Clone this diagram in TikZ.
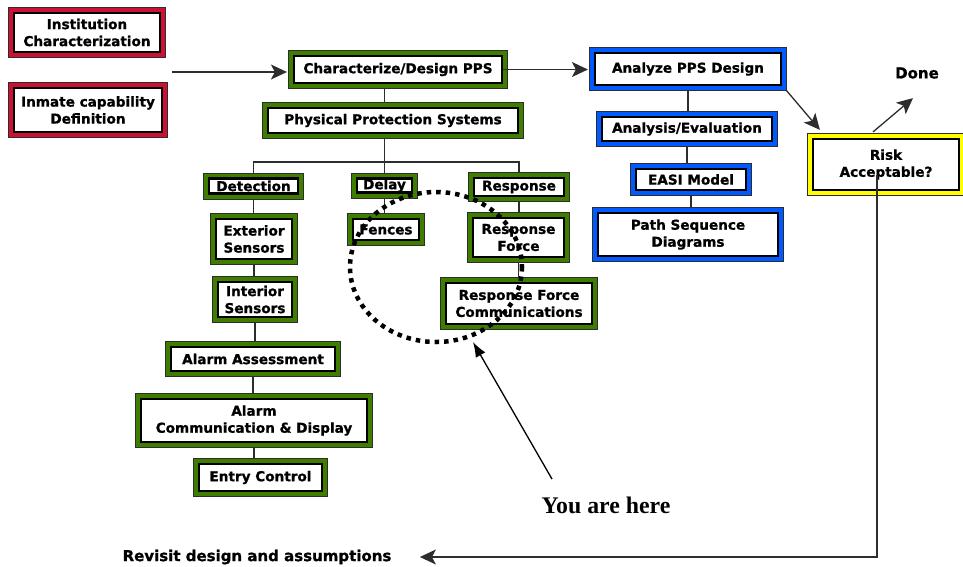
\documentclass[tikz,border=0pt]{standalone}
\usepackage{fontspec}
\newfontfamily\labelsans{DejaVu Sans}[BoldFeatures={FakeBold=1}]
\newfontfamily\noteserif{Liberation Serif}
\usetikzlibrary{arrows.meta,backgrounds}

\definecolor{ppsred}{RGB}{204,17,51}
\definecolor{ppsgreen}{RGB}{62,125,0}
\definecolor{ppsblue}{RGB}{0,90,255}
\definecolor{ppsyellow}{RGB}{255,255,0}
\definecolor{rim}{RGB}{45,45,45}

\tikzset{
  stage/.style={rectangle, fill=white, draw=black, line width=2.2pt,
    inner sep=0pt, align=center,
    font=\labelsans\bfseries\fontsize{13.6}{17}\selectfont,
    preaction={draw=rim, line width=12pt},
    preaction={draw=#1, line width=10pt}},
  link/.style={draw=rim, line width=1.3pt},
  barb/.style={link, -{Stealth[length=16pt,width=15pt,inset=4pt]}},
  pointer/.style={draw=black, line width=1.3pt, -{Latex[length=15pt,width=11pt]}},
  plain/.style={font=\labelsans\bfseries\fontsize{15}{18}\selectfont},
  ring/.style={draw=black, line width=4.5pt, dash pattern=on 4.5pt off 5pt}
}

\begin{document}
\begin{tikzpicture}[x=1pt, y=-1pt]
\useasboundingbox (0,0) rectangle (963,566);

% inputs
\node[stage=ppsred, minimum width=146, minimum height=39] (inst) at (87,32.5) {Institution\\Characterization};
\node[stage=ppsred, minimum width=148, minimum height=44] (inmate) at (88,110) {Inmate capability\\Definition};

% design branch
\node[stage=ppsgreen, minimum width=208, minimum height=27] (char) at (398,69.5) {Characterize/Design PPS};
\node[stage=ppsgreen, minimum width=250, minimum height=25] (pps) at (393,120.5) {Physical Protection Systems};

\node[stage=ppsgreen, minimum width=89, minimum height=15] (det) at (253.5,186) {Detection};
\node[stage=ppsgreen, minimum width=55, minimum height=14] (delay) at (384.5,185.5) {Delay};
\node[stage=ppsgreen, minimum width=90, minimum height=18] (resp) at (519,187) {Response};

\node[stage=ppsgreen, minimum width=76, minimum height=40] (ext) at (254,239) {Exterior\\Sensors};
\node[stage=ppsgreen, minimum width=66, minimum height=21] (fences) at (386,229.5) {Fences};
\node[stage=ppsgreen, minimum width=91, minimum height=39] (rf) at (518.5,237.5) {Response\\Force};

\node[stage=ppsgreen, minimum width=74, minimum height=35] (int) at (255,299.5) {Interior\\Sensors};
\node[stage=ppsgreen, minimum width=146, minimum height=41] (rfc) at (519,303.5) {Response Force\\Communications};

\node[stage=ppsgreen, minimum width=164, minimum height=24] (aa) at (253,359) {Alarm Assessment};
\node[stage=ppsgreen, minimum width=226, minimum height=43] (ac) at (254,420.5) {Alarm\\Communication \& Display};
\node[stage=ppsgreen, minimum width=123, minimum height=27] (entry) at (260.5,477.5) {Entry Control};

% analysis branch
\node[stage=ppsblue, minimum width=186, minimum height=32] (analyze) at (688,69) {Analyze PPS Design};
\node[stage=ppsblue, minimum width=170, minimum height=24] (analysis) at (687,129) {Analysis/Evaluation};
\node[stage=ppsblue, minimum width=110, minimum height=21] (easi) at (691,179.5) {EASI Model};
\node[stage=ppsblue, minimum width=180, minimum height=43] (psd) at (688,234.5) {Path Sequence\\Diagrams};

% decision
\node[stage=ppsyellow, minimum width=146, minimum height=51] (risk) at (886,164.5) {Risk\\Acceptable?};
\node[plain] (done) at (917,73) {Done};
\node[plain] (revisit) at (257,557) {Revisit design and assumptions};
\node[font=\noteserif\bfseries\fontsize{23.8}{28}\selectfont] (here) at (606,505) {You are here};

\coordinate (inputs) at (172,72);
\coordinate (bus) at (0,162);
\coordinate (spot) at (473,342);

% tree connectors behind the boxes
\begin{scope}[on background layer]
  \fill[white] (0,0) rectangle (963,566);
  \draw[link] (delay.north |- char.south) -- (delay.north |- pps.north);
  \draw[link] (delay.north |- pps.south) -- (delay.north);
  \draw[link] (det.north) -- (det.north |- bus) -- (resp.north |- bus) -- (resp.north);
  \draw[link] (det.south) -- (det.south |- ext.north);
  \draw[link] (ext.south) -- (ext.south |- int.north);
  \draw[link] (int.south) -- (int.south |- aa.north);
  \draw[link] (aa.south) -- (aa.south |- ac.north);
  \draw[link] (ac.south) -- (ac.south |- entry.north);
  \draw[link] (delay.south) -- (delay.south |- fences.north);
  \draw[link] (resp.south) -- (resp.south |- rf.north);
  \draw[link] (rf.south) -- (rf.south |- rfc.north);
  \draw[link] (analyze.south) -- (analyze.south |- analysis.north);
  \draw[link] (analysis.south) -- (analysis.south |- easi.north);
  \draw[link] (easi.south) -- (easi.south |- psd.north);
\end{scope}

% flow arrows
\draw[barb] (inputs) -- ([xshift=-6pt]inputs -| char.west);
\draw[barb] (char.east) -- ([xshift=-6pt]char.east -| analyze.west);
\draw[barb] ([shift={(4pt,-4pt)}]analyze.south east) -- ([shift={(8pt,8pt)}]risk.north west);
\draw[barb] ([shift={(-13pt,6pt)}]risk.north) -- ([shift={(-4pt,-16pt)}]done.south);
\draw[barb] ([shift={(-9pt,-10pt)}]risk.center) |- ([xshift=25pt]revisit.east);

% highlighted area
\draw[ring] (436,267) ellipse [x radius=86, y radius=75];
\draw[pointer] ([shift={(-54pt,14pt)}]here.north) -- (spot);
\end{tikzpicture}
\end{document}
